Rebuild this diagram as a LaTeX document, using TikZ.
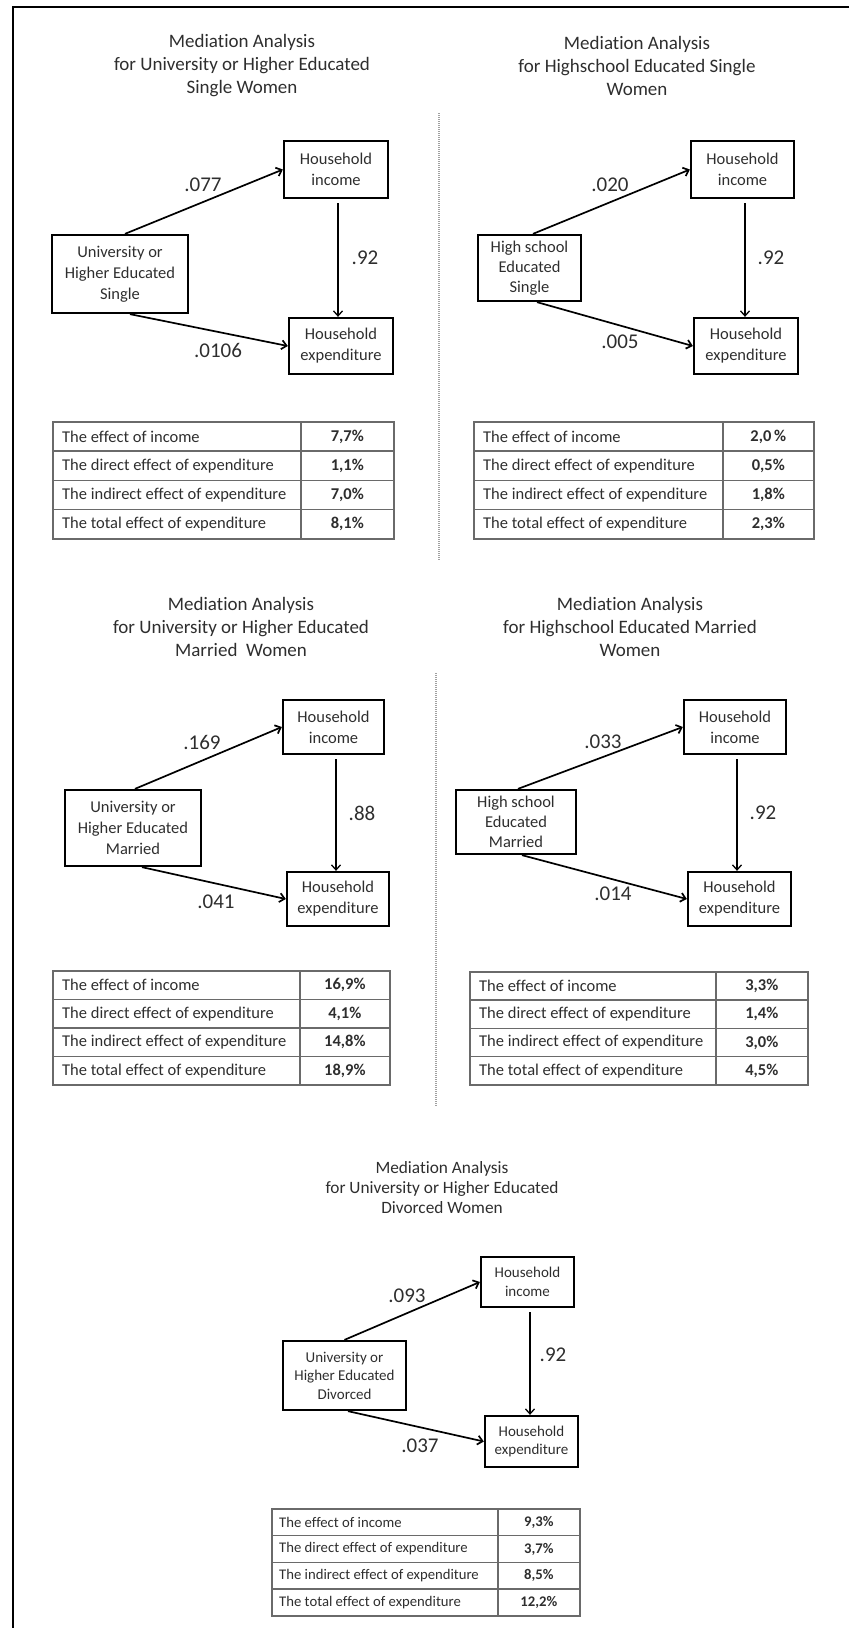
\documentclass[tikz,border=0pt]{standalone}
\usepackage{fontspec}
\setmainfont{Carlito}[Ligatures=NoCommon]
\usetikzlibrary{arrows.meta}
\definecolor{txt}{HTML}{2E2E2E}
\definecolor{tgray}{HTML}{6A6A6A}
\definecolor{dgray}{HTML}{A0A0A0}
\newcommand\tabfont{\fontsize{16.5}{19}\selectfont}
\newcommand\boxfont{\fontsize{16.5}{21}\selectfont}
\newcommand\tabpad{10pt}
% #1 name, #2 x0, #3 x1, #4 x2, #5 ytop, #6 h, #7 label, #8 value
\newcommand\tabrow[8]{%
  \node[cell, minimum width={#3-#2}, minimum height={#6}, anchor=north west] (#1a) at (#2,#5) {};
  \node[cell, minimum width={#4-#3}, minimum height={#6}, anchor=north west] (#1b) at (#3,#5) {\textbf{#8}};
  \node[tabtxt, anchor=west] (#1t) at ([xshift=\tabpad]#1a.west) {#7};
}
\tikzset{
  cell/.style={draw=tgray, line width=1.7pt, inner sep=0pt, font=\tabfont, text=txt},
  tabtxt/.style={inner sep=0pt, font=\tabfont, text=txt},
  box/.style={draw=black, line width=2.3pt, align=center, inner sep=0pt, text=txt, font=\boxfont},
  title/.style={align=center, inner sep=0pt, text=txt, font=\fontsize{19}{23}\selectfont},
  lab/.style={inner sep=0pt, text=txt, font=\fontsize{21}{23}\selectfont},
  arr/.style={-{Straight Barb[length=5pt,width=9pt]}, line width=1.7pt},
  varr/.style={-{Straight Barb[length=5pt,width=9pt]}, line width=1.3pt},
  sep/.style={draw=dgray, line width=1.2pt, dash pattern=on 1pt off 1pt}
}
\begin{document}
\begin{tikzpicture}[x=1pt,y=-1pt]
\useasboundingbox (0,0) rectangle (849,1628);
% frame (top and left)
\coordinate (bTR) at (849,7);
\coordinate (bTL) at (13,7);
\coordinate (bBL) at (13,1628);
\draw[line width=2pt] (bTR) -- (bTL) -- (bBL);
% separators
\coordinate (d1a) at (439,113); \coordinate (d1b) at (439,560);
\draw[sep] (d1a) -- (d1b);
\coordinate (d2a) at (436,673); \coordinate (d2b) at (436,1107);
\draw[sep] (d2a) -- (d2b);

% ---------------- Panel 1
\node[title] (t1) at (242,66) {Mediation Analysis\\for University or Higher Educated\\Single Women};
\node[box, minimum width=104, minimum height=57] (i1) at (336,169.5) {Household\\income};
\node[box, minimum width=136, minimum height=78] (s1) at (120,274) {University or\\Higher Educated\\Single};
\node[box, minimum width=104, minimum height=56] (e1) at (341,346) {Household\\expenditure};
\draw[arr] ([xshift=5pt]s1.north) -- (i1.west);
\draw[varr, shorten <=4pt] ([xshift=2pt]i1.south) -- ([xshift=-3pt]e1.north);
\draw[arr] ([xshift=10pt]s1.south) -- (e1.west);
\node[lab] (l1a) at (203,185) {.077};
\node[lab] (l1b) at (365,258) {.92};
\node[lab] (l1c) at (218,350) {.0106};
\tabrow{t1r1}{52}{300}{393}{421}{29.25}{The effect of income}{7,7\%}
\tabrow{t1r2}{52}{300}{393}{450.25}{29.25}{The direct effect of expenditure}{1,1\%}
\tabrow{t1r3}{52}{300}{393}{479.5}{29.25}{The indirect effect of expenditure}{7,0\%}
\tabrow{t1r4}{52}{300}{393}{508.75}{29.25}{The total effect of expenditure}{8,1\%}

% ---------------- Panel 2
\node[title] (t2) at (637,66) {Mediation Analysis\\for Highschool Educated Single\\Women};
\node[box, minimum width=103, minimum height=57] (i2) at (742.5,169.5) {Household\\income};
\node[box, minimum width=103, minimum height=66, font=\fontsize{16.5}{20}\selectfont] (s2) at (529.5,268) {High school\\Educated\\Single};
\node[box, minimum width=104, minimum height=56] (e2) at (746,346) {Household\\expenditure};
\draw[arr] ([xshift=3.5pt]s2.north) -- (i2.west);
\draw[varr, shorten <=4pt] ([xshift=2.5pt]i2.south) -- ([xshift=-1pt]e2.north);
\draw[arr] ([xshift=7.5pt]s2.south) -- (e2.west);
\node[lab] (l2a) at (610,185) {.020};
\node[lab] (l2b) at (771,258) {.92};
\node[lab] (l2c) at (620,342) {.005};
\tabrow{t2r1}{473}{722}{813}{421}{29.25}{The effect of income}{2,0\,\%}
\tabrow{t2r2}{473}{722}{813}{450.25}{29.25}{The direct effect of expenditure}{0,5\%}
\tabrow{t2r3}{473}{722}{813}{479.5}{29.25}{The indirect effect of expenditure}{1,8\%}
\tabrow{t2r4}{473}{722}{813}{508.75}{29.25}{The total effect of expenditure}{2,3\%}

% ---------------- Panel 3
\node[title] (t3) at (241,627) {Mediation Analysis\\for University or Higher Educated\\Married\ \ Women};
\node[box, minimum width=101, minimum height=54] (i3) at (333.5,727) {Household\\income};
\node[box, minimum width=136, minimum height=76] (s3) at (133,828) {University or\\Higher Educated\\Married};
\node[box, minimum width=102, minimum height=54] (e3) at (338,899) {Household\\expenditure};
\draw[arr] ([xshift=2pt]s3.north) -- (i3.west);
\draw[varr, shorten <=4pt] ([xshift=2.5pt]i3.south) -- ([xshift=-2pt]e3.north);
\draw[arr] ([xshift=9pt]s3.south) -- (e3.west);
\node[lab] (l3a) at (202,742) {.169};
\node[lab] (l3b) at (362,813) {.88};
\node[lab] (l3c) at (216,902) {.041};
\tabrow{t3r1}{52}{299}{389}{970}{28.5}{The effect of income}{16,9\%}
\tabrow{t3r2}{52}{299}{389}{998.5}{28.5}{The direct effect of expenditure}{4,1\%}
\tabrow{t3r3}{52}{299}{389}{1027}{28.5}{The indirect effect of expenditure}{14,8\%}
\tabrow{t3r4}{52}{299}{389}{1055.5}{28.5}{The total effect of expenditure}{18,9\%}

% ---------------- Panel 4
\node[title] (t4) at (630,627) {Mediation Analysis\\for Highschool Educated Married\\Women};
\node[box, minimum width=102, minimum height=54] (i4) at (735,727) {Household\\income};
\node[box, minimum width=120, minimum height=64, font=\fontsize{16.5}{20}\selectfont] (s4) at (516,822) {High school\\Educated\\Married};
\node[box, minimum width=103, minimum height=54] (e4) at (739.5,899) {Household\\expenditure};
\draw[arr] ([xshift=2pt]s4.north) -- (i4.west);
\draw[varr, shorten <=4pt] ([xshift=2pt]i4.south) -- ([xshift=-2.5pt]e4.north);
\draw[arr] ([xshift=6pt]s4.south) -- (e4.west);
\node[lab] (l4a) at (603,742) {.033};
\node[lab] (l4b) at (763,813) {.92};
\node[lab] (l4c) at (613,894) {.014};
\tabrow{t4r1}{469}{715}{807}{971}{28.25}{The effect of income}{3,3\%}
\tabrow{t4r2}{469}{715}{807}{999.25}{28.25}{The direct effect of expenditure}{1,4\%}
\tabrow{t4r3}{469}{715}{807}{1027.5}{28.25}{The indirect effect of expenditure}{3,0\%}
\tabrow{t4r4}{469}{715}{807}{1055.75}{28.25}{The total effect of expenditure}{4,5\%}

% ---------------- Panel 5
\begin{scope}
\renewcommand\tabfont{\fontsize{14.7}{17}\selectfont}
\renewcommand\boxfont{\fontsize{15}{18.5}\selectfont}
\renewcommand\tabpad{8pt}
\node[title, font=\fontsize{17.3}{20}\selectfont] (t5) at (442,1188) {Mediation Analysis\\for University or Higher Educated\\Divorced Women};
\node[box, minimum width=93, minimum height=50] (i5) at (527.5,1282) {Household\\income};
\node[box, minimum width=123, minimum height=69] (s5) at (344.5,1375.5) {University or\\Higher Educated\\Divorced};
\node[box, minimum width=93, minimum height=51] (e5) at (531.5,1441.5) {Household\\expenditure};
\draw[arr] (s5.north) -- (i5.west);
\draw[varr, shorten <=4pt] ([xshift=2.5pt]i5.south) -- ([xshift=-1.5pt]e5.north);
\draw[arr] ([xshift=3.5pt]s5.south) -- (e5.west);
\node[lab] (l5a) at (407,1296) {.093};
\node[lab] (l5b) at (553,1355) {.92};
\node[lab] (l5c) at (420,1446) {.037};
\tabrow{t5r1}{271}{497}{579}{1508}{26.75}{The effect of income}{9,3\%}
\tabrow{t5r2}{271}{497}{579}{1534.75}{26.75}{The direct effect of expenditure}{3,7\%}
\tabrow{t5r3}{271}{497}{579}{1561.5}{26.75}{The indirect effect of expenditure}{8,5\%}
\tabrow{t5r4}{271}{497}{579}{1588.25}{26.75}{The total effect of expenditure}{12,2\%}
\end{scope}
\end{tikzpicture}
\end{document}
